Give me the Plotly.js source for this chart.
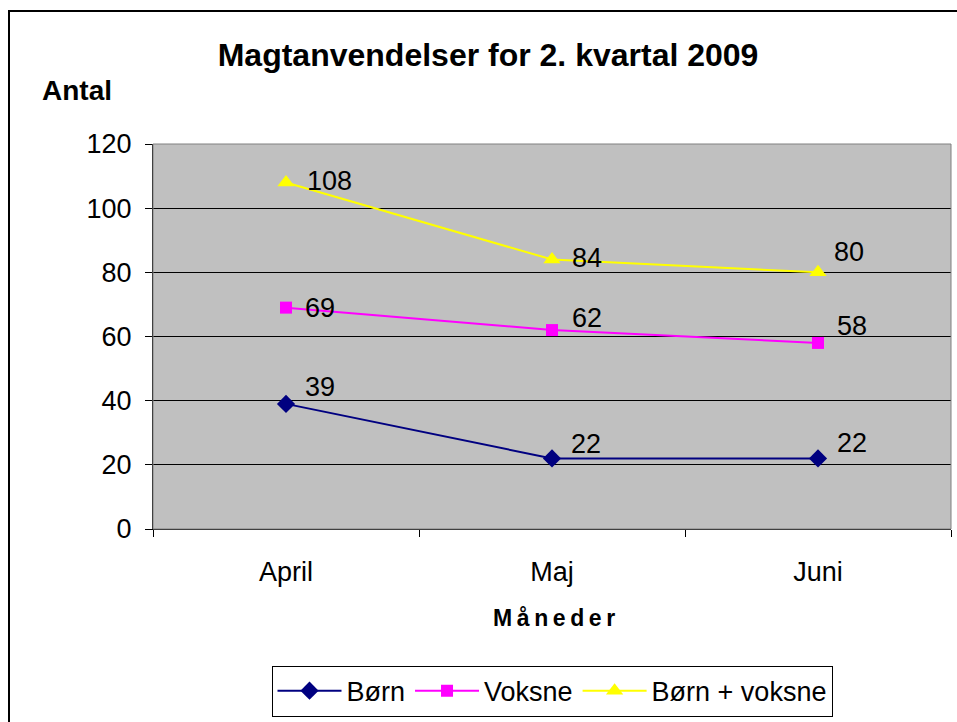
<!DOCTYPE html>
<html>
<head>
<meta charset="utf-8">
<script src="https://cdn.plot.ly/plotly-3.0.1.min.js"></script>
<style>
  html, body { margin:0; padding:0; background:#fff; overflow:hidden; }
  #wrap { position:relative; width:957px; height:722px; overflow:hidden; }
  #chart { position:absolute; left:0; top:0; width:957px; height:722px; }
  #frame { position:absolute; left:8px; top:10px; width:1000px; height:800px;
           border:2px solid #000; box-sizing:border-box; pointer-events:none; }
</style>
</head>
<body>
<div id="wrap">
  <div id="chart"></div>
  <div id="frame"></div>
</div>
<script>
// ---- data ----
const months = ["April", "Maj", "Juni"];
const seriesNames = ["Børn", "Voksne", "Børn + voksne"];
const born = [39, 22, 22];
const voksne = [69, 62, 58];
const bornVoksne = [108, 84, 80];
const yTickValues = [0, 20, 40, 60, 80, 100, 120];

// ---- styles ----
const FONT = "Liberation Sans, Arial, sans-serif";
const colors = ["#000080", "#FF00FF", "#FFFF00"];
const symbols = ["diamond", "square", "triangle-up"];
const markerSizes = [14, 12, 15];
// label offsets (px) [dx, dy-up] per series/point
const labelShift = [
  [[17, 17], [17, 14], [17, 15]],
  [[17, 0], [18, 12], [17, 17]],
  [[19, 2], [18, 2], [14, 20]]
];

const allSeries = [born, voksne, bornVoksne];

const traces = allSeries.map((vals, i) => ({
  type: "scatter",
  mode: "lines+markers",
  name: seriesNames[i],
  x: months,
  y: vals,
  line: { color: colors[i], width: 2 },
  marker: { color: colors[i], symbol: symbols[i], size: markerSizes[i] },
  cliponaxis: false,
  hoverinfo: "skip"
}));

const annotations = [];
allSeries.forEach((vals, i) => {
  vals.forEach((v, j) => {
    annotations.push({
      x: months[j], y: v, xref: "x", yref: "y",
      text: String(v), showarrow: false,
      xanchor: "left", yanchor: "middle",
      xshift: labelShift[i][j][0], yshift: labelShift[i][j][1],
      font: { family: FONT, size: 27, color: "#000" }
    });
  });
});

annotations.push({
  text: "Antal", xref: "paper", yref: "paper",
  x: -0.1418, y: 1.139, xanchor: "left", yanchor: "middle",
  showarrow: false, font: { family: FONT, size: 28, color: "#000", weight: "bold" }
});
annotations.push({
  text: "M\u2009å\u2009n\u2009e\u2009d\u2009e\u2009r", xref: "paper", yref: "paper",
  x: 0.503, y: -0.232, xanchor: "center", yanchor: "middle",
  showarrow: false, font: { family: FONT, size: 23, color: "#000", weight: "bold" }
});

const layout = {
  width: 957, height: 722,
  margin: { l: 153, r: 6, t: 144, b: 190, pad: 0 },
  paper_bgcolor: "#FFFFFF",
  plot_bgcolor: "#C0C0C0",
  font: { family: FONT, size: 27, color: "#000" },
  title: {
    text: "Magtanvendelser for 2. kvartal 2009",
    font: { family: FONT, size: 32, color: "#000", weight: "bold" },
    xref: "container", yref: "container",
    x: 0.51, y: 0.924, xanchor: "center", yanchor: "middle"
  },
  xaxis: {
    type: "category",
    categoryorder: "array", categoryarray: months,
    range: [-0.5, 2.5],
    tickson: "boundaries",
    ticks: "outside", ticklen: 7, tickcolor: "#000", tickwidth: 1,
    showgrid: false, zeroline: false,
    showline: true, linecolor: "#000", linewidth: 1,
    tickfont: { family: FONT, size: 27, color: "#000" },
    ticklabelstandoff: 19,
    fixedrange: true
  },
  yaxis: {
    range: [0, 120],
    tickvals: yTickValues,
    ticktext: yTickValues.map(String),
    ticks: "outside", ticklen: 7, tickcolor: "#000", tickwidth: 1,
    showgrid: true, gridcolor: "#000", gridwidth: 1,
    zeroline: false,
    showline: true, linecolor: "#000", linewidth: 1,
    tickfont: { family: FONT, size: 27, color: "#000" },
    ticklabelstandoff: 8,
    fixedrange: true
  },
  shapes: [{
    type: "rect", xref: "paper", yref: "paper",
    x0: 0, x1: 1, y0: 0, y1: 1,
    line: { color: "#808080", width: 1 }, layer: "above"
  }],
  showlegend: true,
  legend: {
    orientation: "h",
    x: 0.5, xanchor: "center",
    y: -0.355, yanchor: "top",
    bgcolor: "#FFFFFF", bordercolor: "#000", borderwidth: 1,
    font: { family: FONT, size: 27, color: "#000" },
    itemwidth: 64,
    itemclick: false, itemdoubleclick: false
  },
  annotations: annotations
};

Plotly.newPlot("chart", traces, layout, { staticPlot: true, displayModeBar: false });
</script>
</body>
</html>
